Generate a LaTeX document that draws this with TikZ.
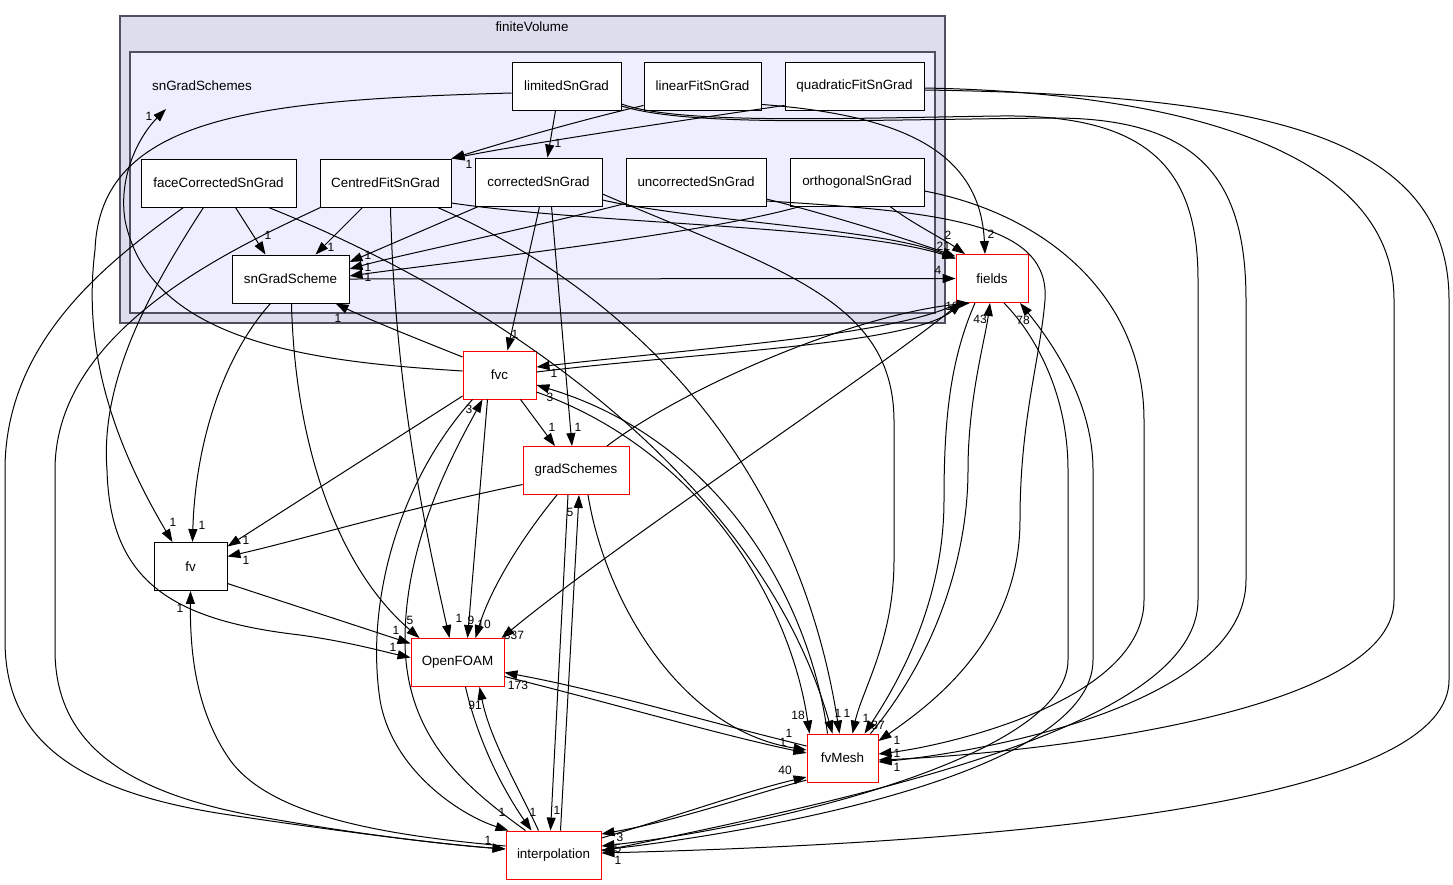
\documentclass[tikz,border=0pt]{standalone}
\usepackage{fontspec}
\setmainfont{Liberation Sans}
\usetikzlibrary{arrows.meta}
\definecolor{outerfill}{HTML}{DDDDEE}
\definecolor{innerfill}{HTML}{EEEEFF}
\definecolor{clusterline}{HTML}{505060}
\tikzstyle{dirbox} = [
rectangle,
draw=black,
fill=white,
line width=0.9pt,
minimum height=48pt,
inner sep=0pt,
font=\fontsize{13.4}{16}\selectfont
]
\tikzstyle{extbox} = [
dirbox,
draw=red
]
\tikzstyle{cluster} = [
draw=clusterline,
line width=1.2pt
]
\tikzstyle{clabel} = [
inner sep=0pt,
font=\fontsize{13.4}{16}\selectfont
]
\tikzstyle{lbl} = [
inner sep=0pt,
font=\fontsize{12}{14}\selectfont
]
\tikzstyle{arrow} = [
line width=1pt,
-{Triangle[length=13pt,width=9pt]}
]
\begin{document}
\begin{tikzpicture}[x=1pt,y=-1pt]
\fill[white] (0,0) rectangle (1453,884);
\useasboundingbox (0,0) rectangle (1453,884);
%Clusters
\draw[cluster,fill=outerfill] (120,16) rectangle (945,323);
\draw[cluster,fill=innerfill] (130,52) rectangle (935,313);
\node[clabel] (finiteVolume) at (532,27) {finiteVolume};
\node[clabel] (snGradSchemes) at (202,86) {snGradSchemes};
\coordinate (sgs) at (166,109);
%Nodes
\node[dirbox,minimum width=109pt] (L) at (566.5,86) {limitedSnGrad};
\node[dirbox,minimum width=117pt] (LF) at (702.5,86) {linearFitSnGrad};
\node[dirbox,minimum width=139pt] (Q) at (854.5,86) {quadraticFitSnGrad};
\node[dirbox,minimum width=155pt] (FC) at (218.5,183) {faceCorrectedSnGrad};
\node[dirbox,minimum width=131pt] (CF) at (385.5,183) {CentredFitSnGrad};
\node[dirbox,minimum width=127pt] (C) at (538.5,182) {correctedSnGrad};
\node[dirbox,minimum width=140pt] (U) at (696,182) {uncorrectedSnGrad};
\node[dirbox,minimum width=134pt] (O) at (857,182) {orthogonalSnGrad};
\node[dirbox,minimum width=117pt] (S) at (290.5,279) {snGradScheme};
\node[extbox,minimum width=72pt] (F) at (992,278.5) {fields};
\node[extbox,minimum width=73pt] (fvc) at (499.5,375) {fvc};
\node[extbox,minimum width=106pt] (G) at (576,470.5) {gradSchemes};
\node[dirbox,minimum width=73pt] (fv) at (190.5,566.5) {fv};
\node[extbox,minimum width=93pt] (OF) at (457.5,662.5) {OpenFOAM};
\node[extbox,minimum width=71pt] (M) at (842.5,758) {fvMesh};
\node[extbox,minimum width=95pt] (I) at (553.5,855) {interpolation};
%Arrows
\draw[arrow] ([yshift=-7pt]L.west) .. controls (260,100) and (100,115) .. (95,250) .. controls (85,330) and (100,420) .. ([xshift=-18pt]fv.north);
\draw[arrow] ([xshift=-11pt]L.south) -- ([xshift=9pt]C.north);
\draw[arrow] ([yshift=-18pt]L.east) .. controls (680,125) and (850,118) .. (1000,116) .. controls (1150,114) and (1198,170) .. (1198,280) -- (1198,600) .. controls (1198,720) and (900,790) .. ([yshift=4pt]I.east);
\draw[arrow] ([yshift=-20pt]L.east) .. controls (690,127) and (850,120) .. (1050,118) .. controls (1200,117) and (1246,180) .. (1246,300) -- (1246,580) .. controls (1246,700) and (1000,750) .. ([yshift=-4pt]M.east);
\draw[arrow] ([yshift=5pt]LF.south west) .. controls (560,125) and (480,150) .. (CF.north east);
\draw[arrow] ([yshift=6pt]LF.south east) .. controls (900,115) and (980,150) .. ([xshift=-7pt]F.north);
\draw[arrow] ([yshift=5pt]Q.south west) .. controls (650,125) and (520,145) .. (CF.north east);
\draw[arrow] ([yshift=-2pt]Q.east) .. controls (1150,92) and (1394,140) .. (1394,300) -- (1394,600) .. controls (1394,720) and (1000,755) .. ([yshift=-2pt]M.east);
\draw[arrow] ([yshift=-4pt]Q.east) .. controls (1250,95) and (1449,130) .. (1449,300) -- (1449,680) .. controls (1449,790) and (1100,840) .. ([yshift=2pt]I.east);
\draw[arrow] ([xshift=17pt]FC.south) -- ([xshift=-25pt]S.north);
\draw[arrow] ([xshift=-15pt]FC.south) .. controls (150,290) and (100,380) .. (107,470) .. controls (110,580) and (170,620) .. (300,635) .. controls (350,642) and (385,652) .. ([yshift=5pt]OF.west);
\draw[arrow] ([xshift=-35pt]FC.south) .. controls (110,260) and (5,340) .. (5,470) -- (5,640) .. controls (5,730) and (60,790) .. (230,815) .. controls (350,833) and (450,845) .. ([yshift=6pt]I.west);
\draw[arrow] ([xshift=50pt]FC.south) .. controls (500,300) and (760,480) .. ([xshift=-10pt]M.north);
\draw[arrow] ([xshift=-23pt]CF.south) -- ([xshift=25pt]S.north);
\draw[arrow] ([yshift=-20pt]CF.east) .. controls (600,225) and (850,225) .. ([yshift=20pt]F.west);
\draw[arrow] ([xshift=5pt]CF.south) .. controls (395,400) and (430,550) .. ([xshift=-8pt]OF.north);
\draw[arrow] ([xshift=52pt]CF.south) .. controls (650,300) and (800,480) .. ([xshift=-3pt]M.north);
\draw[arrow] ([xshift=-65pt]CF.south) .. controls (230,250) and (55,330) .. (55,470) -- (55,650) .. controls (55,740) and (120,790) .. (250,815) .. controls (360,835) and (450,845) .. ([yshift=6pt]I.west);
\draw[arrow] ([xshift=-60pt]C.south) -- ([yshift=17pt]S.east);
\draw[arrow] ([xshift=1pt]C.south) -- ([xshift=8pt]fvc.north);
\draw[arrow] ([xshift=13pt]C.south) -- ([xshift=-4pt]G.north);
\draw[arrow] ([yshift=-18pt]C.east) .. controls (700,222) and (880,228) .. ([yshift=20pt]F.west);
\draw[arrow] ([yshift=-12pt]C.east) .. controls (780,270) and (893,300) .. (894,420) -- (894,560) .. controls (894,640) and (862,690) .. ([xshift=10pt]M.north);
\draw[arrow] ([yshift=3pt]U.south west) .. controls (500,235) and (400,255) .. ([yshift=10pt]S.east);
\draw[arrow] ([yshift=-17pt]U.east) .. controls (830,215) and (910,240) .. ([yshift=22pt]F.west);
\draw[arrow] ([yshift=-19pt]U.east) .. controls (950,212) and (1050,225) .. (1045,300) .. controls (1040,360) and (1020,420) .. (1020,520) .. controls (1020,640) and (930,705) .. ([yshift=17pt]M.east);
\draw[arrow] ([xshift=-57pt]O.south) .. controls (700,235) and (450,262) .. ([yshift=3pt]S.east);
\draw[arrow] ([xshift=33pt]O.south) .. controls (910,222) and (945,240) .. ([xshift=-27pt]F.north);
\draw[arrow] ([yshift=-9pt]O.east) .. controls (1050,215) and (1144,300) .. (1144,420) -- (1144,600) .. controls (1144,700) and (950,745) .. ([yshift=4pt]M.east);
\draw[arrow] (S.east) -- (F.west);
\draw[arrow] ([xshift=-20pt]S.south) .. controls (220,360) and (195,450) .. ([xshift=2pt]fv.north);
\draw[arrow] ([xshift=1pt]S.south) .. controls (295,450) and (340,570) .. ([xshift=-38pt]OF.north);
\draw[arrow] ([yshift=18pt]fvc.west) .. controls (420,340) and (370,320) .. ([xshift=45pt]S.south);
\draw[arrow] ([yshift=4pt]fvc.west) .. controls (320,362) and (150,345) .. (125,220) .. controls (118,175) and (140,135) .. (sgs);
\draw[arrow] ([yshift=3pt]fvc.east) .. controls (700,352) and (910,345) .. ([xshift=-30pt]F.south);
\draw[arrow] ([yshift=-21pt]fvc.west) -- ([yshift=20pt]fv.east);
\draw[arrow] ([xshift=21pt]fvc.south) -- ([xshift=-21pt]G.north);
\draw[arrow] ([xshift=-12pt]fvc.south) -- ([xshift=10pt]OF.north);
\draw[arrow] ([yshift=-17pt]fvc.east) .. controls (700,450) and (790,600) .. ([xshift=-33pt]M.north);
\draw[arrow] ([xshift=-27pt]fvc.south) .. controls (400,480) and (365,600) .. (380,700) .. controls (392,770) and (460,815) .. ([xshift=-45pt]I.north);
\draw[arrow] ([xshift=-34pt]F.south) .. controls (900,335) and (700,348) .. ([yshift=8pt]fvc.east);
\draw[arrow] ([xshift=-32pt]F.south) .. controls (880,370) and (620,540) .. ([xshift=44pt]OF.north);
\draw[arrow] ([xshift=-17pt]F.south) .. controls (950,360) and (944,420) .. (944,500) .. controls (944,600) and (900,680) .. ([xshift=22pt]M.north);
\draw[arrow] ([xshift=12pt]F.south) .. controls (1040,340) and (1068,400) .. (1068,470) -- (1068,660) .. controls (1068,760) and (750,830) .. ([yshift=9pt]I.east);
\draw[arrow] ([xshift=31pt]G.north) .. controls (680,390) and (850,315) .. ([xshift=-22pt]F.south);
\draw[arrow] ([yshift=-14pt]G.west) .. controls (400,510) and (300,540) .. ([yshift=10pt]fv.east);
\draw[arrow] ([xshift=-19pt]G.south) .. controls (520,540) and (490,590) .. ([xshift=18pt]OF.north);
\draw[arrow] ([xshift=-8pt]G.south) -- ([xshift=-3pt]I.north);
\draw[arrow] ([xshift=12pt]G.south) .. controls (605,600) and (680,730) .. ([yshift=8pt]M.west);
\draw[arrow] ([yshift=-17pt]fv.east) -- ([yshift=19pt]OF.west);
\draw[arrow] ([yshift=-14pt]OF.east) .. controls (600,700) and (720,735) .. ([yshift=5pt]M.west);
\draw[arrow] ([xshift=8pt]OF.south) .. controls (480,750) and (510,800) .. ([xshift=-22pt]I.north);
\draw[arrow] ([xshift=-15pt]M.north) .. controls (810,600) and (720,440) .. ([yshift=-10pt]fvc.east);
\draw[arrow] ([xshift=28pt]M.north) .. controls (940,650) and (968,550) .. (968,470) .. controls (968,400) and (985,340) .. ([xshift=-2pt]F.south);
\draw[arrow] ([yshift=12pt]M.west) .. controls (700,720) and (600,690) .. ([yshift=-10pt]OF.east);
\draw[arrow] ([yshift=-22pt]M.west) .. controls (750,795) and (680,820) .. ([yshift=21pt]I.east);
\draw[arrow] ([yshift=9pt]I.west) .. controls (380,835) and (270,815) .. (230,760) .. controls (195,710) and (190,650) .. (fv.south);
\draw[arrow] ([xshift=-28pt]I.north) .. controls (470,790) and (405,740) .. (405,640) .. controls (405,540) and (455,450) .. ([xshift=-17pt]fvc.south);
\draw[arrow] ([xshift=-15pt]I.north) .. controls (520,790) and (490,740) .. ([xshift=22pt]OF.south);
\draw[arrow] ([xshift=7pt]I.north) -- ([xshift=3pt]G.south);
\draw[arrow] ([yshift=17pt]I.east) .. controls (680,815) and (750,790) .. ([yshift=-19pt]M.west);
\draw[arrow] ([yshift=5pt]I.east) .. controls (780,830) and (1093,770) .. (1093,660) -- (1093,470) .. controls (1093,400) and (1050,340) .. ([xshift=28pt]F.south);
%Labels
\node[lbl] (lsgs) at (149,116) {1};
\node[lbl] (lLC) at (558,143) {1};
\node[lbl] (lCF) at (469,164) {1};
\node[lbl] (lLFF) at (991,234) {2};
\node[lbl] (lOF) at (948,235) {2};
\node[lbl] (lCFF) at (940,246) {2};
\node[lbl] (lCFb) at (947,246) {1};
\node[lbl] (lSF) at (938,270) {4};
\node[lbl] (lFCS) at (268,235) {1};
\node[lbl] (lCFS) at (331,247) {1};
\node[lbl] (lCS) at (368,255) {1};
\node[lbl] (lUS) at (368,267) {1};
\node[lbl] (lOS) at (368,277) {1};
\node[lbl] (lfvcS) at (338,318) {1};
\node[lbl] (lCfvc) at (515,334) {1};
\node[lbl] (lFfvc) at (554,373) {1};
\node[lbl] (lMfvc) at (550,397) {3};
\node[lbl] (lIfvc) at (469,409) {3};
\node[lbl] (lfvcF) at (952,306) {18};
\node[lbl] (lMF) at (980,319) {43};
\node[lbl] (lIF) at (1023,320) {78};
\node[lbl] (lfvcG) at (552,427) {1};
\node[lbl] (lCG) at (578,427) {1};
\node[lbl] (lIG) at (570,512) {5};
\node[lbl] (lLfv) at (173,522) {1};
\node[lbl] (lSfv) at (202,525) {1};
\node[lbl] (lfvcfv) at (246,540) {1};
\node[lbl] (lGfv) at (246,560) {1};
\node[lbl] (lIfv) at (180,608) {1};
\node[lbl] (lSOF) at (410,620) {5};
\node[lbl] (lfvOF) at (396,630) {1};
\node[lbl] (lFCOF) at (393,647) {1};
\node[lbl] (lCFOF) at (459,618) {1};
\node[lbl] (lfvcOF) at (471,620) {9};
\node[lbl] (lGOF) at (484,624) {10};
\node[lbl] (lFOF) at (514,635) {337};
\node[lbl] (lMOF) at (518,685) {173};
\node[lbl] (lIOF) at (475,705) {91};
\node[lbl] (lfvcM) at (798,715) {18};
\node[lbl] (lFCM) at (838,713) {1};
\node[lbl] (lCFM) at (847,713) {1};
\node[lbl] (lCM) at (866,718) {1};
\node[lbl] (lFM) at (878,725) {37};
\node[lbl] (lUM) at (897,740) {1};
\node[lbl] (lOM) at (897,753) {1};
\node[lbl] (lLM) at (897,767) {1};
\node[lbl] (lGM) at (789,733) {1};
\node[lbl] (lOFM) at (783,742) {1};
\node[lbl] (lIM) at (785,770) {40};
\node[lbl] (lfvcI) at (502,812) {1};
\node[lbl] (lOFI) at (533,812) {1};
\node[lbl] (lGI) at (557,810) {1};
\node[lbl] (lFCI) at (488,840) {1};
\node[lbl] (lMI) at (620,837) {3};
\node[lbl] (lFI) at (618,848) {5};
\node[lbl] (lLI) at (618,860) {1};
\end{tikzpicture}
\end{document}
